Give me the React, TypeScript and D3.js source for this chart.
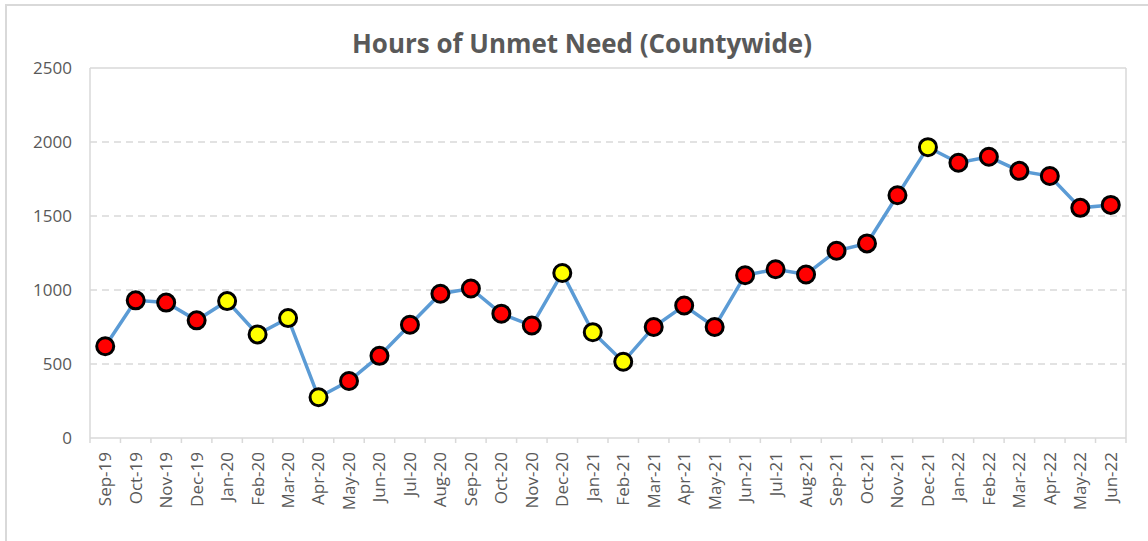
import React from "react";
import * as d3 from "d3";

const months = ["Sep-19","Oct-19","Nov-19","Dec-19","Jan-20","Feb-20","Mar-20","Apr-20","May-20","Jun-20","Jul-20","Aug-20","Sep-20","Oct-20","Nov-20","Dec-20","Jan-21","Feb-21","Mar-21","Apr-21","May-21","Jun-21","Jul-21","Aug-21","Sep-21","Oct-21","Nov-21","Dec-21","Jan-22","Feb-22","Mar-22","Apr-22","May-22","Jun-22"];
const hours = [620,930,915,795,925,700,810,275,385,555,765,975,1010,840,760,1115,715,515,750,895,750,1100,1140,1105,1265,1315,1640,1965,1860,1900,1805,1770,1555,1575];
const flagged = [false,false,false,false,true,true,true,true,false,false,false,false,false,false,false,true,true,true,false,false,false,false,false,false,false,false,false,true,false,false,false,false,false,false];
const yTicks = [0,500,1000,1500,2000,2500];
const title = "Hours of Unmet Need (Countywide)";

const W = 1148, H = 541;
const left = 90, right = 1126, top = 68, bottom = 438;
const font = "'Open Sans', sans-serif";

export default function App() {
  const x = d3.scaleBand<string>().domain(months).range([left, right]).padding(0);
  const y = d3.scaleLinear().domain([0, 2500]).range([bottom, top]);
  const cxOf = (i: number) => (x(months[i]) as number) + x.bandwidth() / 2;
  const line = d3.line<number>().x((_, i) => cxOf(i)).y((d) => y(d));
  const bounds = d3.range(months.length + 1).map((i) => left + i * x.bandwidth());
  return (
    <div style={{ position: "absolute", left: 0, top: 0 }}>
      <svg width={W} height={H} style={{ display: "block", background: "#fff" }}>
        <rect x={6} y={5} width={W + 20} height={H + 20} fill="#fff" stroke="#d9d9d9" strokeWidth={2} />
        <text x={582} y={53} textAnchor="middle" fill="#595959" fontFamily={font} fontWeight={700} fontSize={26} textLength={460} lengthAdjust="spacingAndGlyphs">{title}</text>
        {yTicks.filter((t) => t > 0).map((t) => (
          <line key={t} x1={left} x2={right} y1={y(t)} y2={y(t)} stroke="#d9d9d9" strokeWidth={1.5}
            strokeDasharray={t === 2500 ? undefined : "7,5"} />
        ))}
        <line x1={left} x2={left} y1={top} y2={bottom} stroke="#d9d9d9" strokeWidth={1.5} />
        <line x1={right} x2={right} y1={top} y2={bottom} stroke="#d9d9d9" strokeWidth={1.5} />
        <line x1={left} x2={right} y1={bottom} y2={bottom} stroke="#d9d9d9" strokeWidth={1.5} />
        {bounds.map((b, i) => (
          <line key={i} x1={b} x2={b} y1={bottom} y2={bottom + 5} stroke="#d9d9d9" strokeWidth={1.5} />
        ))}
        {yTicks.map((t) => (
          <text key={t} x={left - 18} y={y(t)} dy="0.35em" textAnchor="end" fill="#595959" fontFamily={font} fontSize={17}>{t}</text>
        ))}
        {months.map((m, i) => (
          <text key={m} transform={`translate(${cxOf(i)},${bottom + 14}) rotate(-90)`} textAnchor="end" dy="0.35em"
            fill="#595959" fontFamily={font} fontSize={17}>{m}</text>
        ))}
        <path d={line(hours) || ""} fill="none" stroke="#5b9bd5" strokeWidth={3.5} />
        {hours.map((v, i) => (
          <circle key={i} cx={cxOf(i)} cy={y(v)} r={8.5}
            fill={flagged[i] ? "#ffff00" : "#ff0000"} stroke="#000" strokeWidth={3} />
        ))}
      </svg>
    </div>
  );
}
